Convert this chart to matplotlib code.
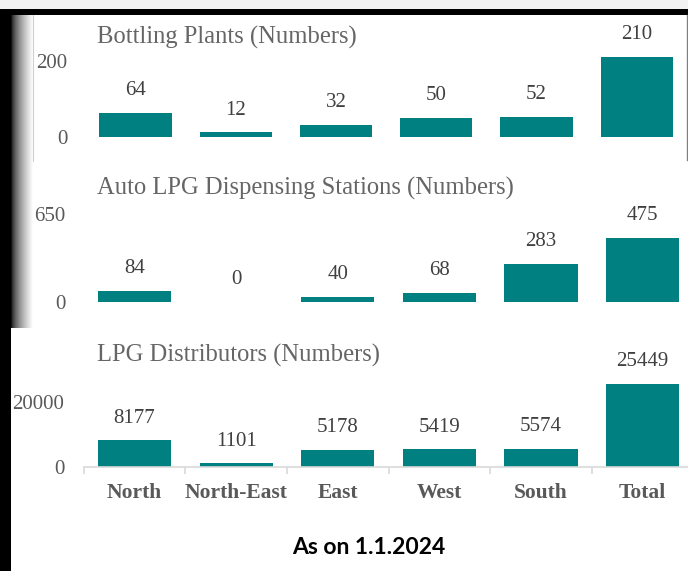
import numpy as np
import matplotlib
matplotlib.use('Agg')
import matplotlib.pyplot as plt
from matplotlib.patches import Rectangle

# data
regions = ['North', 'North-East', 'East', 'West', 'South', 'Total']
bottling_plants = [64, 12, 32, 50, 52, 210]
auto_lpg_stations = [84, 0, 40, 68, 283, 475]
lpg_distributors = [8177, 1101, 5178, 5419, 5574, 25449]
titles = ['Bottling Plants (Numbers)',
          'Auto LPG Dispensing Stations (Numbers)',
          'LPG Distributors (Numbers)']
y_tops = [200, 650, 20000]
caption = 'As on 1.1.2024'

W, H = 688, 571
TEAL = '#008080'
GREY = '#595959'
SERIF = 'Liberation Serif'


def px_rect(left, top, right, bottom):
    return [left / W, 1 - bottom / H, (right - left) / W, (bottom - top) / H]


fig = plt.figure(figsize=(W / 100, H / 100), dpi=100)
fig.patch.set_facecolor('white')

# frame bits (screenshot borders)
bg = fig.add_axes([0, 0, 1, 1])
bg.axis('off')
bg.add_patch(Rectangle((0, 0), W, 9, color='#f2f2f2', lw=0))
bg.add_patch(Rectangle((0, 9), W, 6, color='black', lw=0))
bg.add_patch(Rectangle((0, 9), 11, H, color='black', lw=0))
grad = np.linspace(0.0, 1.0, 64)[None, :] ** 0.6
bg.imshow(grad, cmap='gray', extent=(11, 33, 328, 15), aspect='auto', vmin=0, vmax=1)
bg.plot([33, 33], [15, 161], color='#d0d0d0', lw=0.8)
bg.plot([686.5, 686.5], [15, 160], color='#808080', lw=1)
bg.set_xlim(0, W)
bg.set_ylim(H, 0)

# panel geometry: (left, right, baseline, units per pixel, title y, tick pad)
panels = [
    (85.3, 687.0, 137, 210 / 80, 37, 13),
    (83.7, 693.5, 302, 475 / 64, 188, 13),
    (83.7, 693.5, 467, 25449 / 83, 355, 14),
]
series = [bottling_plants, auto_lpg_stations, lpg_distributors]

x = np.arange(len(regions))
for i, (left, right, base, upp, ty, pad) in enumerate(panels):
    top = base - 110
    ax = fig.add_axes(px_rect(left, top, right, base))
    ax.patch.set_alpha(0)
    vals = series[i]
    ax.bar(x, vals, width=0.72, color=TEAL)
    ax.set_xlim(-0.5, len(regions) - 0.5)
    ax.set_ylim(0, (base - top) * upp)
    for xi, v in zip(x, vals):
        ax.annotate(str(v), (xi, v), xytext=(0, 16), textcoords='offset points',
                    ha='center', va='center', fontsize=15, color='#404040',
                    family=SERIF)
    ax.set_yticks([0, y_tops[i]])
    ax.set_yticklabels(['0', str(y_tops[i])], fontsize=15, color=GREY, family=SERIF)
    ax.tick_params(axis='y', length=0, pad=pad)
    for s in ['top', 'right', 'left']:
        ax.spines[s].set_visible(False)
    if i < 2:
        ax.spines['bottom'].set_visible(False)
        ax.set_xticks([])
    else:
        ax.spines['bottom'].set_color('#d9d9d9')
        ax.spines['bottom'].set_linewidth(1.2)
        ax.set_xticks(x - 0.5, minor=False)
        ax.set_xticklabels([''] * len(x))
        ax.tick_params(axis='x', length=5, color='#d9d9d9', width=1.2)
        for xi, name in zip(x, regions):
            ax.annotate(name, (xi, 0), xytext=(0, -19), textcoords='offset points',
                        ha='center', va='center', fontsize=15.5, fontweight='bold',
                        color=GREY, family=SERIF)
    fig.text(97 / W, 1 - ty / H, titles[i], ha='left', va='center',
             fontsize=17.7, color='#666666', family=SERIF)

fig.text(369 / W, 1 - 547 / H, caption, ha='center', va='center',
         fontsize=16.5, fontweight='bold', color='black', family='Lato')

fig.savefig('out.png', dpi=100)
